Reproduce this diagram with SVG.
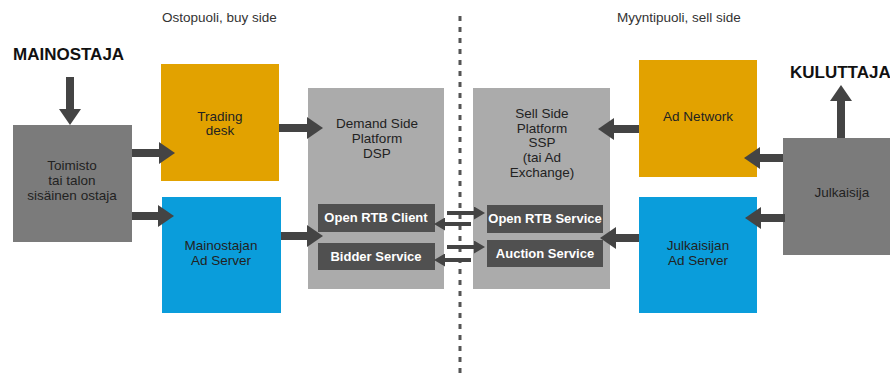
<svg xmlns="http://www.w3.org/2000/svg" width="890" height="374" viewBox="0 0 890 374">
<defs>
<marker id="ah" markerUnits="userSpaceOnUse" markerWidth="16" markerHeight="22" viewBox="0 0 16 22" refX="1" refY="11" orient="auto"><path d="M0,0 L16,11 L0,22 z" fill="#444"/></marker>
<marker id="ahs" markerUnits="userSpaceOnUse" markerWidth="11" markerHeight="13" viewBox="0 0 11 13" refX="1" refY="6.5" orient="auto"><path d="M0,0 L11,6.5 L0,13 z" fill="#444"/></marker>
</defs>
<style>
text{font-family:"Liberation Sans",Arial,sans-serif;font-size:13.5px;fill:#222;text-anchor:middle}
.hdr{font-size:13.5px;text-anchor:start;fill:#333}
.big{font-size:17px;font-weight:bold;text-anchor:start;fill:#111}
.svc{fill:#fff;font-weight:bold;font-size:13px}
.gray{fill:#7b7b7b}
.light{fill:#ababab}
.orange{fill:#e2a200}
.blue{fill:#0a9ddb}
.dark{fill:#505050}
.arr{stroke:#444;stroke-width:8;fill:none;marker-end:url(#ah)}
.sarr{stroke:#444;stroke-width:4;fill:none;marker-end:url(#ahs)}
</style>
<rect width="890" height="374" fill="#fff"/>
<text class="hdr" x="162" y="22">Ostopuoli, buy side</text>
<text class="hdr" x="617" y="22">Myyntipuoli, sell side</text>
<text class="big" x="13" y="60">MAINOSTAJA</text>
<text class="big" x="790" y="78">KULUTTAJA</text>
<line x1="460" y1="16" x2="460" y2="374" stroke="#555" stroke-width="3" stroke-dasharray="5 6"/>
<g id="toimisto"><rect class="gray" x="13" y="125" width="119" height="117"/><text x="72" y="170">Toimisto</text><text x="72" y="185">tai talon</text><text x="72" y="200">sisäinen ostaja</text></g>
<g id="trading"><rect class="orange" x="161" y="64" width="118" height="117"/><text x="220" y="121">Trading</text><text x="220" y="135">desk</text></g>
<g id="mainostajan"><rect class="blue" x="162" y="197" width="119" height="116"/><text x="221" y="250">Mainostajan</text><text x="221" y="265">Ad Server</text></g>
<g id="dsp"><rect class="light" x="308" y="88" width="136" height="201"/><text x="377" y="128">Demand Side</text><text x="377" y="143">Platform</text><text x="377" y="158">DSP</text></g>
<g id="rtbclient"><rect class="dark" x="318" y="204" width="117" height="28"/><text class="svc" x="376" y="222">Open RTB Client</text></g>
<g id="bidder"><rect class="dark" x="318" y="243" width="117" height="27"/><text class="svc" x="376" y="261">Bidder Service</text></g>
<g id="ssp"><rect class="light" x="473" y="88" width="137" height="201"/><text x="542" y="118">Sell Side</text><text x="542" y="133">Platform</text><text x="542" y="147">SSP</text><text x="542" y="162">(tai Ad</text><text x="542" y="177">Exchange)</text></g>
<g id="rtbservice"><rect class="dark" x="487" y="205" width="116" height="28"/><text class="svc" x="545" y="223">Open RTB Service</text></g>
<g id="auction"><rect class="dark" x="487" y="240" width="116" height="27"/><text class="svc" x="545" y="258">Auction Service</text></g>
<g id="adnetwork"><rect class="orange" x="639" y="60" width="118" height="117"/><text x="698" y="121">Ad Network</text></g>
<g id="julkaisijan"><rect class="blue" x="639" y="197" width="118" height="116"/><text x="698" y="250">Julkaisijan</text><text x="698" y="265">Ad Server</text></g>
<g id="julkaisija"><rect class="gray" x="783" y="138" width="107" height="117"/><text x="842" y="197">Julkaisija</text></g>
<g id="connectors">
<line class="arr" x1="70" y1="77" x2="70" y2="110"/>
<line class="arr" x1="132" y1="153" x2="160" y2="153"/>
<line class="arr" x1="132" y1="216" x2="159" y2="216"/>
<line class="arr" x1="279" y1="128" x2="308" y2="128"/>
<line class="arr" x1="281" y1="236" x2="308" y2="236"/>
<line class="arr" x1="639" y1="129" x2="613" y2="129"/>
<line class="arr" x1="639" y1="238" x2="615" y2="238"/>
<line class="arr" x1="783" y1="158" x2="759" y2="158"/>
<line class="arr" x1="785" y1="218" x2="760" y2="218"/>
<line class="arr" x1="841" y1="138" x2="841" y2="100"/>
<line class="sarr" x1="447" y1="213" x2="475" y2="213"/>
<line class="sarr" x1="471" y1="224" x2="444" y2="224"/>
<line class="sarr" x1="447" y1="247" x2="475" y2="247"/>
<line class="sarr" x1="471" y1="260" x2="444" y2="260"/>
</g>
</svg>
